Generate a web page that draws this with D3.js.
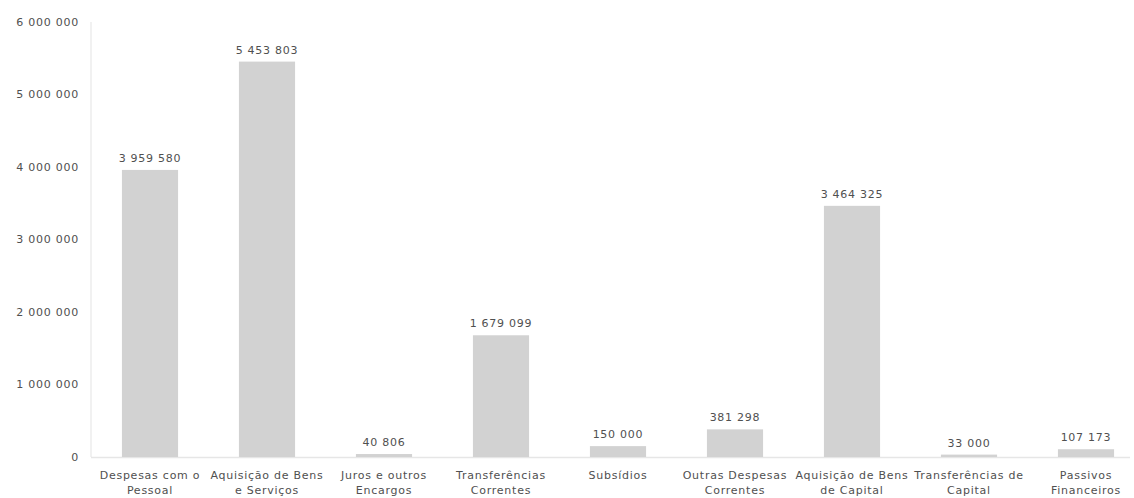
<!DOCTYPE html>
<html>
<head>
<meta charset="utf-8">
<script src="https://cdn.jsdelivr.net/npm/d3@7"></script>
<style>
  html, body { margin: 0; padding: 0; background: #fff; }
  svg { display: block; font-family: "DejaVu Sans", Verdana, sans-serif; }
  .lbl { fill: #505050; font-size: 11px; letter-spacing: 0.75px; }
</style>
</head>
<body>
<svg id="chart" width="1134" height="498"></svg>
<script>
// Despesas por agrupamento económico
const categories = [
  ["Despesas com o", "Pessoal"],
  ["Aquisição de Bens", "e Serviços"],
  ["Juros e outros", "Encargos"],
  ["Transferências", "Correntes"],
  ["Subsídios"],
  ["Outras Despesas", "Correntes"],
  ["Aquisição de Bens", "de Capital"],
  ["Transferências de", "Capital"],
  ["Passivos", "Financeiros"]
];
const values = [3959580, 5453803, 40806, 1679099, 150000, 381298, 3464325, 33000, 107173];
const yTicks = [0, 1000000, 2000000, 3000000, 4000000, 5000000, 6000000];

const svg = d3.select("#chart");
const fmt = v => d3.format(",d")(v).replace(/,/g, " ");

const x = d3.scaleBand()
  .domain(d3.range(categories.length))
  .range([91.5, 1144.5])
  .paddingInner(0.52)
  .paddingOuter(0.26);

const y = d3.scaleLinear().domain([0, 6000000]).range([457, 22]);

// vertical axis line
svg.append("line")
  .attr("x1", 91).attr("x2", 91)
  .attr("y1", y(6000000)).attr("y2", y(0))
  .attr("stroke", "#ececec").attr("stroke-width", 1.5);

// baseline
svg.append("line")
  .attr("x1", 91).attr("x2", 1130)
  .attr("y1", y(0) + 0.5).attr("y2", y(0) + 0.5)
  .attr("stroke", "#e6e6e6").attr("stroke-width", 1.5);

// y tick labels
svg.append("g").selectAll("text").data(yTicks).join("text")
  .attr("class", "lbl")
  .attr("x", 79)
  .attr("y", d => y(d))
  .attr("dy", "0.35em")
  .attr("text-anchor", "end")
  .text(fmt);

// bars
svg.append("g").selectAll("rect").data(values).join("rect")
  .attr("x", (d, i) => x(i))
  .attr("width", x.bandwidth())
  .attr("y", d => y(d))
  .attr("height", d => y(0) - y(d))
  .attr("fill", "#d2d2d2");

// value labels
svg.append("g").selectAll("text").data(values).join("text")
  .attr("class", "lbl")
  .attr("x", (d, i) => x(i) + x.bandwidth() / 2)
  .attr("y", d => y(d) - 8)
  .attr("text-anchor", "middle")
  .text(fmt);

// category labels
const cat = svg.append("g").selectAll("text").data(categories).join("text")
  .attr("class", "lbl")
  .attr("x", (d, i) => x(i) + x.bandwidth() / 2)
  .attr("y", 479)
  .attr("text-anchor", "middle");
cat.selectAll("tspan").data(d => d).join("tspan")
  .attr("x", function () { return d3.select(this.parentNode).attr("x"); })
  .attr("dy", (d, j) => j === 0 ? 0 : 15)
  .text(d => d);
</script>
</body>
</html>
